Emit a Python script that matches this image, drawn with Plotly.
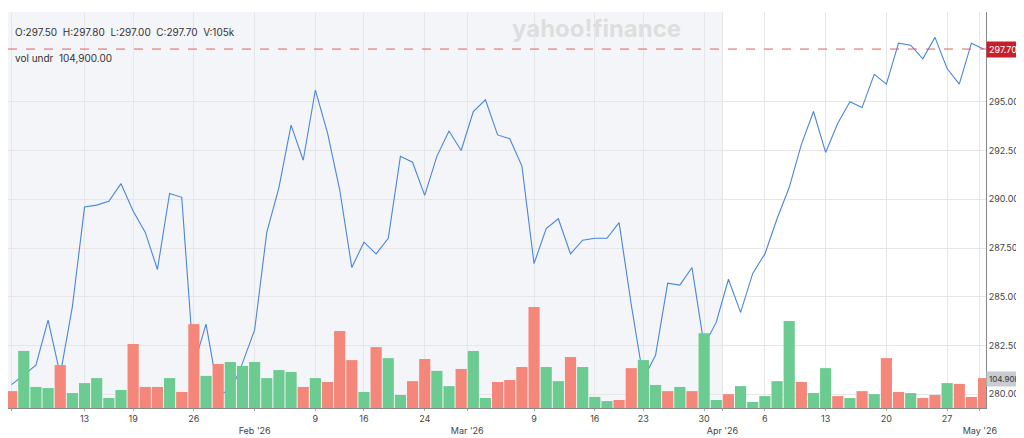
import plotly.graph_objects as go

# daily close, volume in thousands, and bar direction
close = [280.5, 281.0, 281.5, 283.8, 281.0, 284.5, 289.6, 289.7, 289.9, 290.8,
         289.4, 288.3, 286.4, 290.3, 290.1, 281.5, 283.6, 280.1, 280.1, 281.6,
         283.3, 288.3, 290.6, 293.8, 292.0, 295.6, 293.4, 290.5, 286.5, 287.8,
         287.2, 288.0, 292.2, 291.9, 290.2, 292.2, 293.5, 292.5, 294.5, 295.1,
         293.3, 293.1, 291.7, 286.7, 288.5, 289.0, 287.2, 287.9, 288.0, 288.0,
         288.8, 284.6, 280.8, 282.0, 285.7, 285.6, 286.5, 282.5, 283.7, 285.9,
         284.2, 286.2, 287.2, 289.0, 290.6, 292.8, 294.5, 292.4, 293.9, 295.0,
         294.7, 296.4, 295.9, 298.0, 297.9, 297.2, 298.3, 296.7, 295.9, 298.0,
         297.7]
volume = [61, 206, 76, 72, 155, 54, 90, 108, 36, 65,
          231, 76, 76, 108, 58, 303, 116, 159, 166, 152,
          166, 108, 137, 130, 76, 108, 94, 278, 173, 58,
          220, 180, 47, 97, 177, 134, 79, 141, 206, 36,
          94, 101, 148, 365, 148, 97, 184, 148, 40, 25,
          29, 144, 173, 83, 61, 76, 61, 270, 29, 50,
          79, 22, 43, 97, 314, 94, 54, 144, 43, 36,
          61, 50, 180, 58, 54, 36, 47, 90, 87, 40,
          108]
down = "RGGGRGGGGGRRRGRRGRGGGGGGRGRRRGRGGRRGGRGGRRRRGGRGGGRRGGRGRGGRGGGGGRGGRGRGRRGRRGR"
down = down + "R" * (len(volume) - len(down))

tick_idx = [0, 6, 10, 15, 20, 25, 29, 34, 37.5, 43, 48, 52, 57, 58.5, 62, 67, 72, 77, 79.7]
tick_txt = ["<br>Jan '26", "13", "19", "26", "<br>Feb '26", "9", "16", "24", "<br>Mar '26",
            "9", "16", "23", "30", "<br>Apr '26", "6", "13", "20", "27", "<br>May '26"]

x = list(range(len(close)))
bar_colors = ["#f4877a" if d == "R" else "#6ccb90" for d in down]

fig = go.Figure()
fig.add_trace(go.Bar(x=x, y=volume, marker=dict(color=bar_colors, line=dict(width=0)),
                     yaxis="y2", showlegend=False))
fig.add_trace(go.Scatter(x=x, y=close, mode="lines", line=dict(color="#4a86d8", width=1.1),
                         showlegend=False))

fig.add_shape(type="rect", xref="x", yref="paper", x0=-0.5, x1=58.5, y0=0, y1=1,
              fillcolor="#f4f5f9", line=dict(width=0), layer="below")
fig.add_hline(y=297.7, line=dict(color="#e06060", width=1, dash="dash"))

fig.update_layout(
    width=1024, height=438,
    margin=dict(l=0, r=46, t=4, b=38),
    paper_bgcolor="white", plot_bgcolor="white",
    font=dict(family="Inter", size=9, color="#444"),
    bargap=0.08,
    xaxis=dict(range=[-0.3, 80.2], tickvals=tick_idx, ticktext=tick_txt, tickangle=0,
               showgrid=True, gridcolor="#e6e6e6", zeroline=False,
               showline=True, linecolor="#888", ticks="outside", ticklen=2, tickcolor="#aaa"),
    yaxis=dict(side="right", range=[279.3, 299.6], tickvals=[280, 282.5, 285, 287.5, 290, 292.5, 295],
               tickformat=".2f", showgrid=True, gridcolor="#e6e6e6", zeroline=False,
               showline=True, linecolor="#888", ticks="", layer="above traces"),
    yaxis2=dict(overlaying="y", range=[0, 1430], visible=False),
)

fig.add_annotation(text="O:297.50  H:297.80  L:297.00  C:297.70  V:105k", xref="paper", yref="paper",
                   x=0.005, y=0.97, xanchor="left", showarrow=False, font=dict(size=10, color="#333"))
fig.add_annotation(text="vol undr  104,900.00", xref="paper", yref="paper",
                   x=0.005, y=0.905, xanchor="left", showarrow=False, font=dict(size=10, color="#333"))
fig.add_annotation(text="<b>yahoo!finance</b>", xref="paper", yref="paper", x=0.69, y=1.0,
                   yanchor="top", showarrow=False, font=dict(size=24, color="#dedede"))
fig.add_annotation(text="297.70", xref="paper", yref="y", x=1.0, y=297.7, xanchor="left",
                   showarrow=False, bgcolor="#c8202a", font=dict(size=9, color="white"), borderpad=2)
fig.add_annotation(text="104.90K", xref="paper", yref="y2", x=1.0, y=104.9, xanchor="left",
                   showarrow=False, bgcolor="#c9ccd1", font=dict(size=8, color="#333"), borderpad=2)

fig.write_html("out.html")
